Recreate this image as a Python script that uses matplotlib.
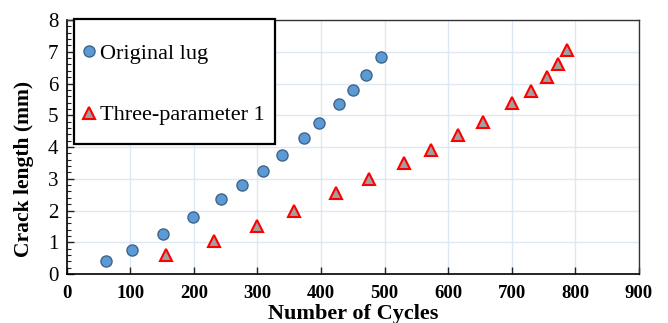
import matplotlib.pyplot as plt
from matplotlib.patches import Rectangle
from matplotlib.ticker import MultipleLocator

# data
orig_cycles = [61, 102, 151, 198, 243, 275, 308, 338, 373, 397, 428, 450, 471, 494]
orig_crack = [0.41, 0.76, 1.25, 1.80, 2.37, 2.81, 3.25, 3.74, 4.27, 4.76, 5.36, 5.81, 6.28, 6.82]

three_cycles = [156, 231, 299, 358, 424, 476, 530, 573, 616, 655, 701, 730, 755, 772, 786]
three_crack = [0.60, 1.04, 1.51, 1.98, 2.54, 2.98, 3.49, 3.92, 4.37, 4.80, 5.38, 5.76, 6.19, 6.60, 7.05]

plt.rcParams['font.family'] = ['Liberation Serif', 'DejaVu Serif']

W, H = 668, 323
fig = plt.figure(figsize=(6.68, 3.23), dpi=100)
ax = fig.add_axes([0.0999, 0.1517, 0.8567, 0.7863])

ax.plot(orig_cycles, orig_crack, linestyle='none', marker='o', markersize=8,
        markerfacecolor='#5b9bd5', markeredgecolor='#41648a', markeredgewidth=1.0,
        label='Original lug', zorder=3)
ax.plot(three_cycles, three_crack, linestyle='none', marker='^', markersize=8.5,
        markerfacecolor='#a0a0a0', markeredgecolor='#ff0000', markeredgewidth=1.5,
        label='Three-parameter 1', zorder=3)

ax.set_xlim(0, 900)
ax.set_ylim(0, 8)
ax.xaxis.set_major_locator(MultipleLocator(100))
ax.yaxis.set_major_locator(MultipleLocator(1))
ax.yaxis.set_minor_locator(MultipleLocator(0.2))
ax.grid(True, which='major', color='#dde8f4', linewidth=1.0, zorder=0)
ax.set_axisbelow(True)

ax.tick_params(axis='both', which='major', direction='in', length=5, width=1, colors='#222222')
ax.tick_params(axis='y', which='minor', direction='in', length=3, width=0.8, colors='#222222')
ax.tick_params(axis='y', labelsize=15, labelcolor='black', pad=6)
ax.tick_params(axis='x', labelsize=13.5, labelcolor='black', pad=8)
for lbl in ax.get_xticklabels():
    lbl.set_fontweight('bold')

for side in ['top', 'right']:
    ax.spines[side].set_color('#333333')
    ax.spines[side].set_linewidth(1.0)
for side in ['left', 'bottom']:
    ax.spines[side].set_color('black')
    ax.spines[side].set_linewidth(1.2)

ax.set_xlabel('Number of Cycles', fontsize=16, fontweight='bold')
ax.xaxis.set_label_coords(0.5, -0.12)
ax.set_ylabel('Crack length (mm)', fontsize=15.5, fontweight='bold')
ax.yaxis.set_label_coords(-0.057, 0.413)

# legend entries without frame, box drawn separately (taller than the padding allows)
box = Rectangle((74 / W, 1 - 144 / H), 201 / W, 125 / H, transform=fig.transFigure,
                facecolor='white', edgecolor='black', linewidth=1.6, zorder=4,
                clip_on=False)
ax.add_patch(box)
leg = ax.legend(loc='upper left', bbox_to_anchor=(82 / W, 1 - 43 / H),
                bbox_transform=fig.transFigure, borderaxespad=0,
                fontsize=16, frameon=False, labelspacing=1.86,
                handlelength=0.6, handletextpad=0.2, borderpad=0)
leg.set_zorder(5)

fig.savefig('out.png', dpi=100)
